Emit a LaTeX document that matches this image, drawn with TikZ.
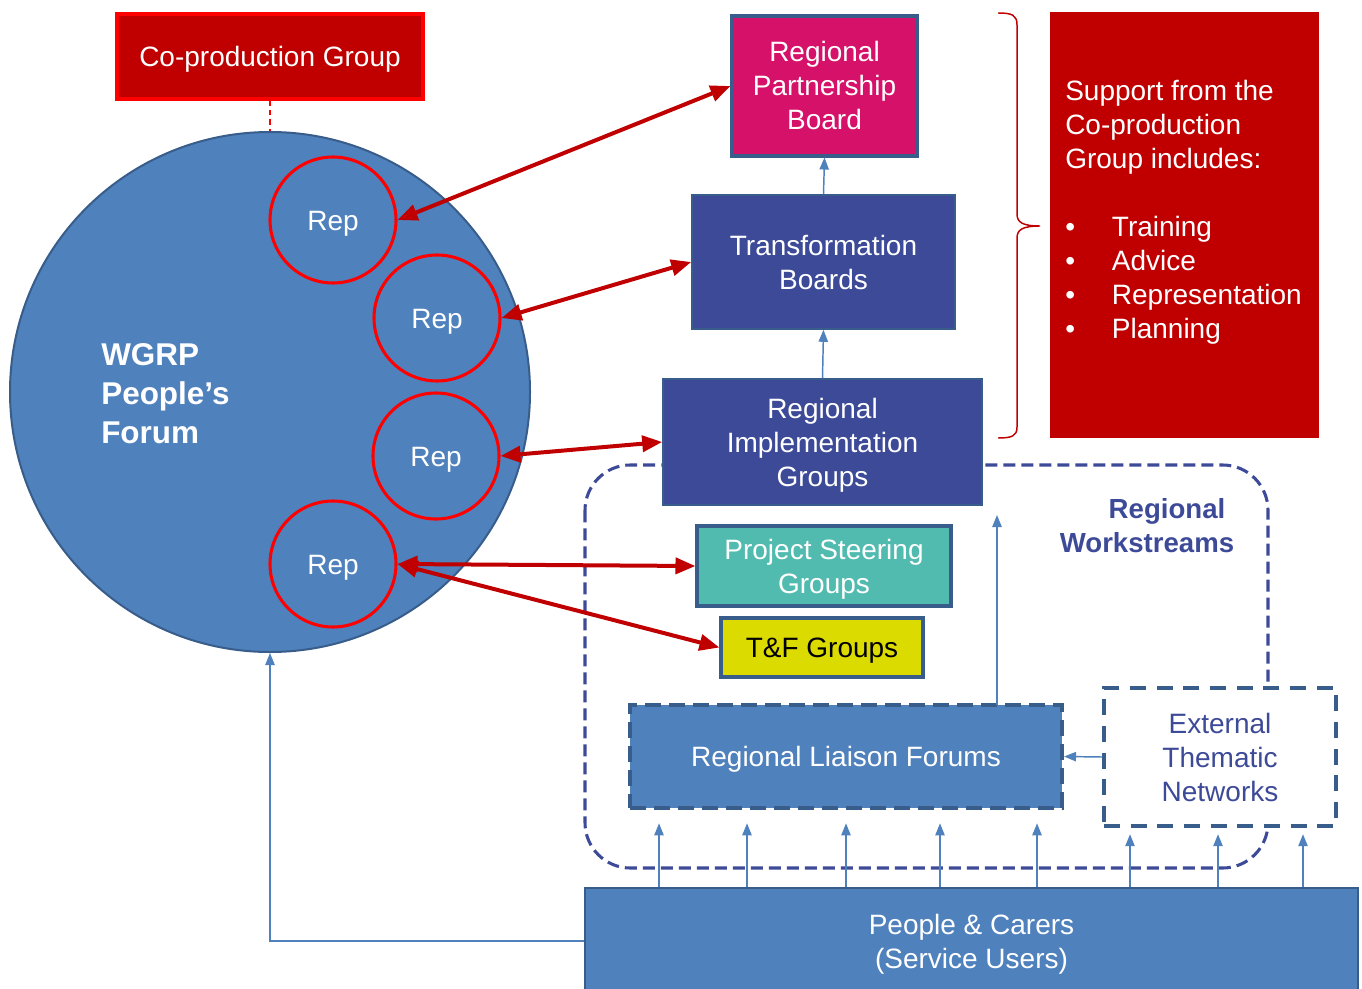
\documentclass[tikz,border=0pt]{standalone}
\usepackage{fontspec}
\setmainfont{Liberation Sans}
\usetikzlibrary{arrows.meta}
\definecolor{bfill}{HTML}{4F81BD}
\definecolor{bline}{HTML}{385D8A}
\definecolor{navy}{HTML}{3D4A98}
\definecolor{magen}{HTML}{D61169}
\definecolor{teal}{HTML}{52BBB0}
\definecolor{yell}{HTML}{DBDB00}
\definecolor{dred}{HTML}{C00000}
\definecolor{bred}{HTML}{FF0000}
\begin{document}
\begin{tikzpicture}[x=0.75pt,y=-0.75pt,
  every node/.style={font=\fontsize{21}{25.5}\selectfont, inner sep=0pt, align=center},
  lone/.style={text height=15pt, text depth=0pt},
  ltwo/.style={text height=40.5pt, text depth=0pt},
  lthree/.style={text height=66pt, text depth=0pt},
  boxn/.style={rectangle, draw=bline, line width=1.2pt, fill=navy, text=white},
  repc/.style={circle, draw=bred, line width=2.3pt, minimum size=94.5pt, text=white, lone},
  redarr/.style={draw=dred, line width=3pt, {Triangle[length=15pt,width=12pt]}-{Triangle[length=15pt,width=12pt]}},
  barrow/.style={draw=bfill, line width=1.1pt, -{Triangle[length=9pt,width=7pt]}}
]
\useasboundingbox (0,0) rectangle (1362,988);

% Regional Workstreams frame
\draw[navy, line width=2.3pt, dash pattern=on 9pt off 4.5pt, rounded corners=34pt] (585,465) rectangle (1268,868);
\node[font=\bfseries\fontsize{20.7}{25.5}\selectfont, text=navy, ltwo] (rw) at (1147,525) {\hspace*{30pt}Regional\\Workstreams};

% Co-production group
\node[rectangle, draw=bred, line width=2.3pt, fill=dred, text=white, minimum width=229.5pt, minimum height=63.75pt, lone] (cpg) at (270,56.5) {Co-production Group};

% Forum
\node[circle, draw=bline, line width=1.5pt, fill=bfill, minimum size=390pt] (forum) at (270,392) {};
\draw[bred, line width=1.1pt, dash pattern=on 4pt off 3pt] (cpg.south) -- (forum.north);
\node[anchor=west, align=left, text=white, font=\bfseries\fontsize{23.6}{29.3}\selectfont, text height=75.6pt, text depth=0pt] (wgrp) at (101,393) {WGRP\\People’s\\Forum};
\node[repc] (rep1) at (333,220) {Rep};
\node[repc] (rep2) at (437,318) {Rep};
\node[repc] (rep3) at (436,456) {Rep};
\node[repc] (rep4) at (333,564) {Rep};

% Right boxes
\node[rectangle, draw=bline, line width=2.3pt, fill=magen, text=white, minimum width=138.75pt, minimum height=105pt, lthree] (rpb) at (824.5,86) {Regional\\Partnership\\Board};
\node[boxn, minimum width=197.25pt, minimum height=100.5pt, ltwo] (tb) at (823.5,262) {Transformation\\Boards};
\node[boxn, minimum width=239.25pt, minimum height=94.5pt, lthree] (rig) at (822.5,442) {Regional\\Implementation\\Groups};
\node[rectangle, draw=bline, line width=2.3pt, fill=teal, text=white, minimum width=190.5pt, minimum height=60pt, ltwo] (psg) at (824,566) {Project Steering\\Groups};
\node[rectangle, draw=bline, line width=2.3pt, fill=yell, text=black, minimum width=151.5pt, minimum height=44.25pt, lone] (tf) at (822,647.5) {T\&F Groups};

\draw[barrow] (tb.north) -- (rpb.south);
\draw[barrow] (rig.north) -- (tb.south);

% Support box
\node[rectangle, fill=dred, minimum width=201.75pt, minimum height=319.5pt] (sup) at (1184.5,225) {};
\node[anchor=west, align=left, text=white, text height=193.5pt, text depth=0pt] (suptext) at (1065,209) {Support from the\\Co-production\\Group includes:\\[25.5pt]\makebox[35pt][l]{•}Training\\\makebox[35pt][l]{•}Advice\\\makebox[35pt][l]{•}Representation\\\makebox[35pt][l]{•}Planning};
\coordinate (bt) at (998,13);
\coordinate (bb) at (998,438);
\coordinate (btip) at (1040,226);
\draw[dred, line width=1.1pt] (bt) .. controls (1012,13) and (1017,15) .. (1017,25) -- (1017,214) .. controls (1017,222) and (1022,226) .. (btip)
  .. controls (1022,226) and (1017,230) .. (1017,238) -- (1017,427) .. controls (1017,436) and (1012,438) .. (bb);

% Lower boxes
\node[rectangle, draw=bline, line width=3pt, dash pattern=on 12pt off 6pt, fill=bfill, text=white, minimum width=324pt, minimum height=77.25pt, lone] (rlf) at (846,756.5) {Regional Liaison Forums};
\node[rectangle, draw=bline, line width=2.3pt, dash pattern=on 12pt off 8pt, fill=white, text=navy, minimum width=174pt, minimum height=103.5pt, lthree] (etn) at (1220,757) {External\\Thematic\\Networks};
\node[rectangle, draw=bline, line width=1.5pt, fill=bfill, text=white, minimum width=579.75pt, minimum height=79.5pt, ltwo] (pc) at (971.5,941) {People \& Carers\\(Service Users)};

% Blue connectors
\coordinate (rlftop) at (997,705);
\coordinate (rlfup) at (997,515);
\draw[barrow] (rlftop) -- (rlfup);
\draw[barrow] (etn.west) -- (rlf.east);
\draw[barrow] (pc.west) -| (forum.south);
\foreach \x in {659,747,846,940,1037}
  \draw[barrow] (pc.north -| \x,0) -- ([yshift=-10pt]rlf.south -| \x,0);
\foreach \x in {1130,1218,1303}
  \draw[barrow] (pc.north -| \x,0) -- ([yshift=-5pt]etn.south -| \x,0);

% Red arrows
\draw[redarr] (rep1.east) -- (rpb.west);
\draw[redarr] (rep2.east) -- (tb.west);
\draw[redarr] (rep3.east) -- (rig.west);
\draw[redarr] (rep4.east) -- (psg.west);
\draw[redarr] (rep4.east) -- (tf.west);
\end{tikzpicture}
\end{document}
